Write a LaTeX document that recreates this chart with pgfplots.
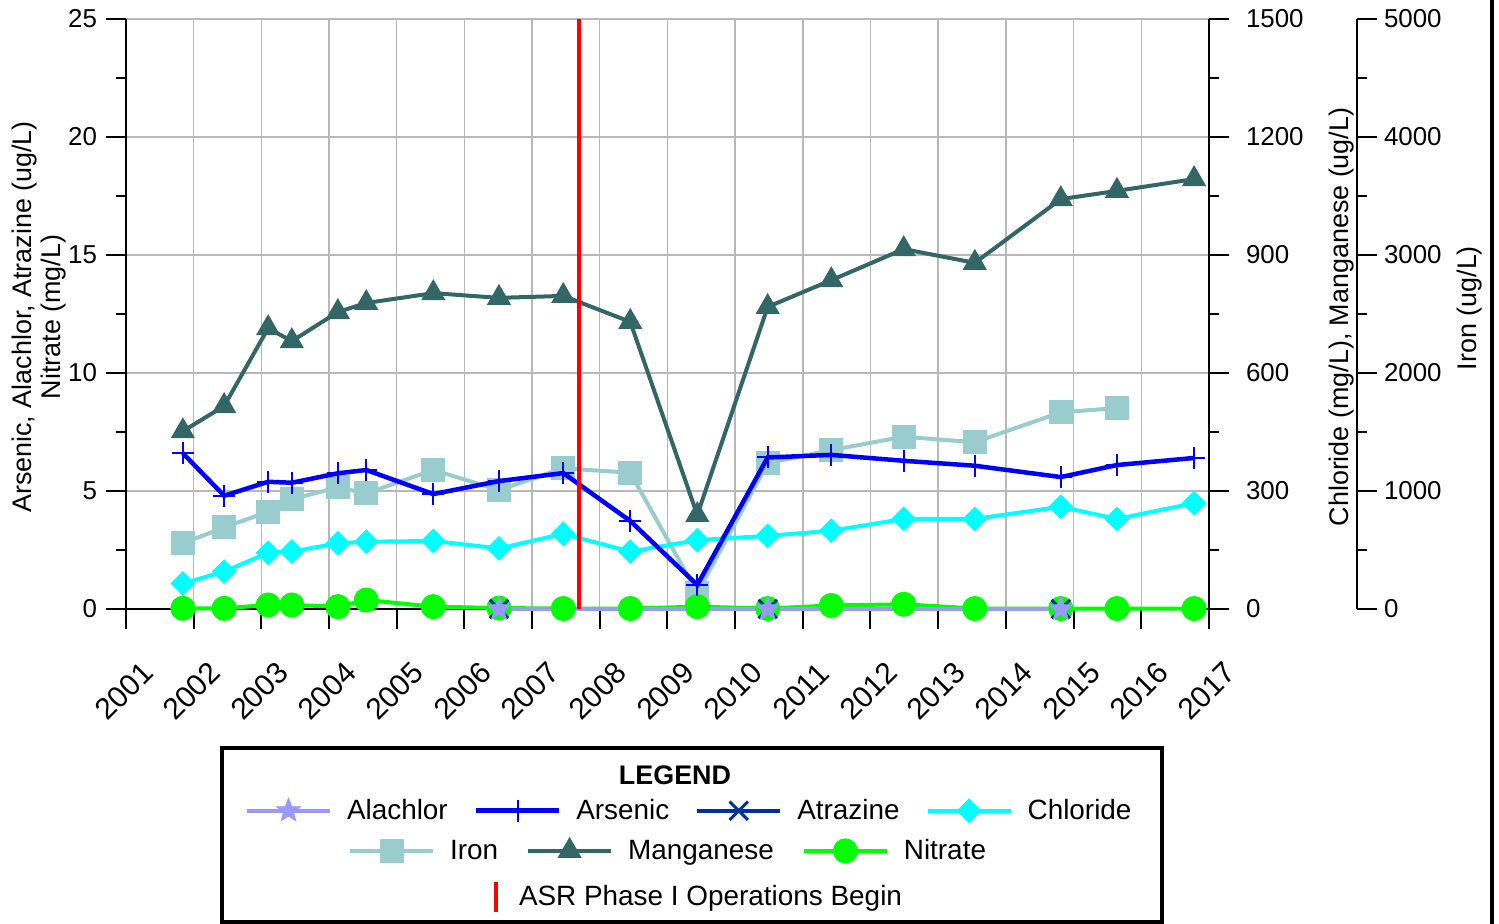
\documentclass[border=0pt]{standalone}
\usepackage{fontspec}
\setmainfont{Liberation Sans}
\usepackage{pgfplots}
\usepackage{pgfplotstable}
\pgfplotsset{compat=1.18}
\definecolor{mang}{HTML}{336666}
\definecolor{iron}{HTML}{99CCCC}
\definecolor{chlor}{HTML}{00FFFF}
\definecolor{arsen}{HTML}{0000FF}
\definecolor{atraz}{HTML}{003399}
\definecolor{alach}{HTML}{9999FF}
\definecolor{nitr}{HTML}{00FF00}
\definecolor{gridc}{HTML}{B8B8B8}

\pgfdeclareplotmark{fstar}{%
  \pgfpathmoveto{\pgfpointpolar{90}{\pgfplotmarksize}}%
  \pgfpathlineto{\pgfpointpolar{126}{0.42\pgfplotmarksize}}%
  \pgfpathlineto{\pgfpointpolar{162}{\pgfplotmarksize}}%
  \pgfpathlineto{\pgfpointpolar{198}{0.42\pgfplotmarksize}}%
  \pgfpathlineto{\pgfpointpolar{234}{\pgfplotmarksize}}%
  \pgfpathlineto{\pgfpointpolar{270}{0.42\pgfplotmarksize}}%
  \pgfpathlineto{\pgfpointpolar{306}{\pgfplotmarksize}}%
  \pgfpathlineto{\pgfpointpolar{342}{0.42\pgfplotmarksize}}%
  \pgfpathlineto{\pgfpointpolar{18}{\pgfplotmarksize}}%
  \pgfpathlineto{\pgfpointpolar{54}{0.42\pgfplotmarksize}}%
  \pgfpathclose
  \pgfusepathqfillstroke}

\pgfplotstableread{
x mn as fe cl no
2001.84 452 6.60 556 65 0.03
2002.45 516 4.80 692 95 0.03
2003.10 714 5.39 824 143 0.17
2003.45 681 5.35 930 146 0.17
2004.13 755 5.75 1031 167 0.10
2004.55 778 5.89 980 171 0.38
2005.54 803 4.87 1178 173 0.10
2006.51 791 5.42 1008 154 0.04
2007.46 796 5.76 1192 191 0.02
2008.45 730 3.73 1155 146 0.02
2009.44 239 1.02 136 175 0.10
2010.48 768 6.42 1237 186 0.02
2011.42 836 6.53 1347 199 0.15
2012.49 915 6.28 1460 229 0.20
2013.54 880 6.07 1413 229 0.02
2014.81 1042 5.59 1667 260 0.02
2015.64 1063 6.10 1703 229 0.02
2016.78 1093 6.40 nan 269 0.02
}\data

\pgfplotstableread{
x y
2006.51 0
2010.48 0
2014.81 0
}\pest

\pgfplotsset{
  base/.style={
    scale only axis, width=541.5bp, height=295bp,
    at={(63bp,157.5bp)}, anchor=south west,
    xmin=2001, xmax=2017, clip=false,
    tick style={black, line width=1bp},
    axis line style={black, line width=1bp},
    tick align=outside,
    major tick length=10bp, minor tick length=5bp,
    ticklabel style={font=\fontsize{13}{15}\selectfont},
    /pgf/number format/assume math mode=true,
    /pgf/number format/1000 sep={},
    label style={font=\fontsize{13.5}{14.5}\selectfont},
    legend columns=-1,
    legend style={draw=none, fill=none, inner sep=0pt, outer sep=0pt,
      font=\fontsize{14}{16}\selectfont,
      nodes={inner sep=0pt, anchor=west},
      /tikz/every odd column/.append style={column sep=7.5bp}},
    legend image code/.code={\draw[mark repeat=2,mark phase=2,##1] plot coordinates {(0bp,0bp) (20.75bp,0bp) (41.5bp,0bp)};},
  },
  redbar/.style={legend image code/.code={\draw[##1] (0bp,-7.5bp) -- (0bp,7.5bp);}},
  pmn/.style={mang, line width=2bp, mark=triangle*, mark size=5bp, mark options={solid}},
  pfe/.style={iron, line width=2bp, mark=square*, mark size=5bp, mark options={solid}},
  pcl/.style={chlor, line width=2bp, mark=square*, mark size=3.4bp, mark options={solid, rotate=45}},
  pas/.style={arsen, line width=2.25bp, mark=+, mark size=5.5bp, mark options={solid, line width=1bp}},
  pat/.style={atraz, line width=2bp, mark=x, mark size=6.5bp, mark options={solid, line width=1.5bp}},
  pal/.style={alach, line width=2bp, mark=fstar, mark size=6.5bp, mark options={solid, line width=0.2bp}},
  pno/.style={nitr, line width=2bp, mark=*, mark size=5.25bp, mark options={solid}},
}

\begin{document}
\begin{tikzpicture}
\path[use as bounding box] (0,0) rectangle (749.5bp,462bp);

% Axis 1: frame, grid, left axis, x axis, legend row 1
\begin{axis}[base,
  axis x line*=bottom, axis y line*=left,
  ymin=0, ymax=25, ytick={0,5,...,25}, minor ytick={2.5,7.5,...,22.5},
  xtick={2001,2002,...,2017}, minor x tick num=3,
  grid=major, major grid style={gridc, line width=0.7bp},
  xticklabel style={font=\fontsize{15}{17}\selectfont, anchor=center, yshift=-31bp, xshift=-1bp, rotate=45},
  yticklabel style={xshift=-1bp},
  ylabel={Arsenic, Alachlor, Atrazine (ug/L)\\Nitrate (mg/L)},
  ylabel style={align=center, at={(axis description cs:-0.0805,0.495)}, anchor=center},
  legend style={at={(axis description cs:0.1099,-0.3407)}, anchor=west,
    /tikz/every even column/.append style={column sep=13bp}},
]
\addlegendimage{pal}\addlegendentry{Alachlor}
\addlegendimage{pas}\addlegendentry{Arsenic}
\addlegendimage{pat}\addlegendentry{Atrazine}
\addlegendimage{pcl}\addlegendentry{Chloride}
\end{axis}

% Axis 2: Iron (right outer axis)
\begin{axis}[base, width=615.5bp, xmax=2019.186,
  hide x axis, axis y line*=right,
  ymin=0, ymax=5000, ytick={0,1000,...,5000}, minor ytick={500,1500,...,4500},
  ylabel={Iron (ug/L)},
  ylabel style={at={(axis description cs:1.0918,0.51)}, anchor=center},
]
\addplot[pfe, forget plot] table[x=x, y=fe] {\data};
\end{axis}

% Axis 3: Chloride, Manganese
\begin{axis}[base,
  hide x axis, axis y line*=right,
  ymin=0, ymax=1500, ytick={0,300,...,1500}, minor ytick={150,450,...,1350},
  yticklabel style={xshift=5bp},
  ylabel={Chloride (mg/L), Manganese (ug/L)},
  ylabel style={at={(axis description cs:1.1228,0.495)}, anchor=center},
  legend style={at={(axis description cs:0.205,-0.410)}, anchor=west,
    /tikz/every even column/.append style={column sep=14bp}},
]
\addplot[pmn, forget plot] table[x=x, y=mn] {\data};
\addplot[pcl, forget plot] table[x=x, y=cl] {\data};
\addlegendimage{pfe}\addlegendentry{Iron}
\addlegendimage{pmn}\addlegendentry{Manganese}
\addlegendimage{pno}\addlegendentry{Nitrate}
\end{axis}

% Axis 4: left-axis data
\begin{axis}[base, hide x axis, hide y axis, ymin=0, ymax=25,
  legend style={at={(axis description cs:0.3398,-0.488)}, anchor=west,
    /tikz/every odd column/.append style={column sep=10.5bp}},
]
\addplot[pno, forget plot] table[x=x, y=no] {\data};
\addplot[pat, forget plot] table[x=x, y=y] {\pest};
\addplot[pal, forget plot] table[x=x, y=y] {\pest};
\addplot[pas, forget plot] table[x=x, y=as] {\data};
\addplot[red, line width=2bp, redbar] coordinates {(2007.69,0) (2007.69,25)};
\addlegendentry{ASR Phase I Operations Begin}
\end{axis}

\draw[line width=1.6bp] (111bp,1bp) rectangle (581bp,88bp);
\node[font=\bfseries\fontsize{13.5}{16}\selectfont] at (337.5bp,74.5bp) {LEGEND};
\draw[line width=2bp] (745.8bp,0bp) -- (745.8bp,462bp);
\end{tikzpicture}
\end{document}
